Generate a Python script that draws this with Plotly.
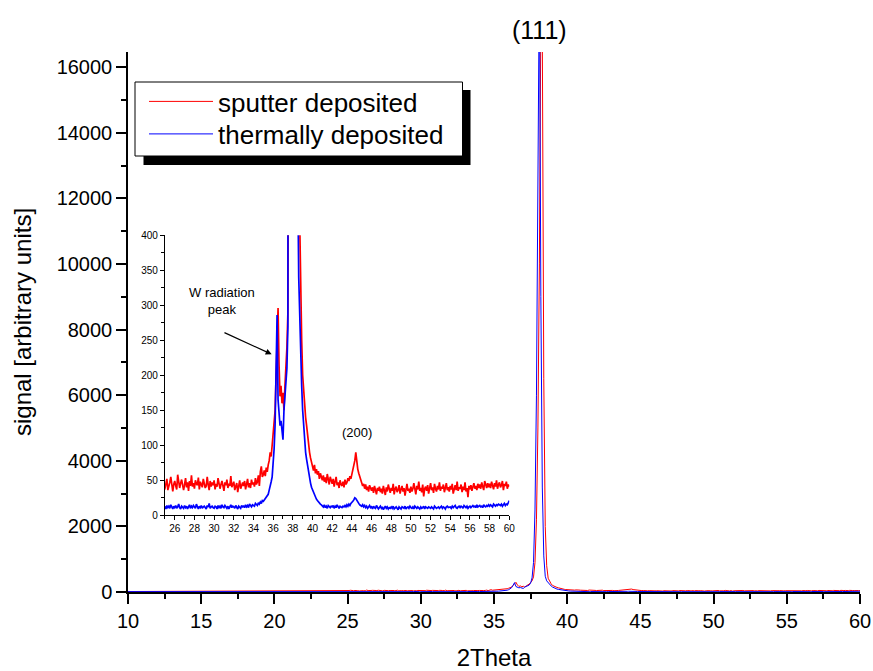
import plotly.graph_objects as go

# ---------------- data ----------------
# scan positions: coarse part 10..24 deg, then 25.0..60.0 deg at 0.1 deg steps
low_two_theta = [10, 11, 12, 13, 14, 15, 16, 17, 18, 19, 20, 21, 22, 23, 24]
scan_start, scan_step, scan_points = 25.0, 0.1, 351
two_theta = low_two_theta + [round(scan_start + scan_step * i, 1) for i in range(scan_points)]

sputter_low = [14, 15, 13, 16, 15, 17, 16, 18, 36, 41, 38, 43, 40, 44, 42]
sputter_scan = [
    38, 45, 52, 36, 41, 47, 55, 40, 34, 44,          # 25
    49, 42, 37, 58, 45, 39, 46, 51, 43, 36,          # 26
    44, 53, 40, 47, 35, 49, 42, 57, 41, 46,          # 27
    38, 50, 45, 43, 54, 37, 48, 44, 40, 52,          # 28
    46, 39, 42, 55, 44, 36, 49, 41, 47, 43,          # 29
    50, 37, 45, 41, 53, 46, 38, 44, 49, 42,          # 30
    35, 47, 43, 51, 39, 45, 42, 56, 40, 44,          # 31
    48, 36, 41, 46, 33, 44, 50, 38, 43, 47,          # 32
    42, 49, 37, 45, 52, 40, 46, 39, 51, 44,          # 33
    47, 41, 53, 44, 48, 57, 42, 62, 70, 55,          # 34
    58, 64, 56, 68, 62, 72, 78, 90, 84, 100,         # 35
    115, 125, 150, 200, 255, 296, 215, 170, 185, 160,  # 36
    175, 150, 185, 210, 240, 290, 340, 460, 900, 2200,  # 37
    5000, 10000, 17500, 17000, 6500, 2000, 800, 420, 310, 250,  # 38
    200, 175, 150, 140, 128, 112, 100, 90, 82, 75,   # 39
    70, 64, 72, 60, 66, 58, 63, 52, 60, 55,          # 40
    50, 57, 48, 54, 46, 59, 51, 44, 55, 49,          # 41
    45, 52, 41, 48, 55, 43, 47, 39, 50, 44,          # 42
    42, 48, 40, 51, 44, 47, 53, 49, 56, 52,          # 43
    58, 62, 68, 78, 90, 74, 66, 60, 55, 52,          # 44
    48, 42, 45, 38, 44, 36, 41, 34, 43, 38,          # 45
    35, 40, 32, 42, 37, 30, 39, 35, 41, 33,          # 46
    38, 31, 42, 36, 29, 40, 34, 44, 37, 32,          # 47
    39, 35, 45, 30, 38, 41, 33, 36, 43, 31,          # 48
    37, 42, 34, 39, 28, 40, 45, 35, 38, 32,          # 49
    41, 34, 38, 46, 36, 30, 42, 37, 48, 35,          # 50
    39, 33, 44, 27, 38, 41, 35, 43, 31, 37,          # 51
    46, 36, 40, 32, 45, 38, 34, 42, 37, 47,          # 52
    35, 41, 38, 44, 33, 39, 46, 36, 40, 34,          # 53
    42, 37, 45, 31, 39, 43, 36, 48, 35, 40,          # 54
    38, 44, 33, 41, 36, 47, 34, 39, 26, 42,          # 55
    37, 43, 35, 40, 46, 38, 42, 36, 45, 39,          # 56
    44, 38, 47, 41, 36, 49, 43, 39, 46, 40,          # 57
    45, 39, 48, 42, 37, 46, 41, 50, 38, 44,          # 58
    47, 40, 43, 49, 36, 45, 42, 48, 38, 44,          # 59
    41,                                              # 60
]

thermal_low = [12, 11, 13, 12, 10, 12, 13, 11, 12, 10, 13, 11, 12, 14, 11]
thermal_scan = [
    12, 9, 14, 11, 13, 10, 15, 12, 9, 13,            # 25
    11, 14, 10, 12, 16, 11, 9, 13, 12, 10,           # 26
    14, 11, 13, 9, 12, 15, 10, 13, 11, 14,           # 27
    12, 10, 16, 12, 9, 13, 11, 14, 10, 12,           # 28
    13, 11, 9, 14, 12, 17, 10, 12, 13, 11,           # 29
    10, 13, 12, 9, 14, 11, 13, 10, 15, 12,           # 30
    11, 14, 12, 10, 13, 9, 12, 15, 11, 13,           # 31
    12, 10, 14, 11, 9, 13, 12, 10, 14, 12,           # 32
    13, 11, 15, 12, 14, 11, 16, 13, 12, 15,          # 33
    14, 13, 17, 15, 14, 18, 16, 19, 17, 21,          # 34
    20, 22, 24, 25, 27, 30, 36, 41, 48, 55,          # 35
    70, 95, 130, 200, 286, 165, 140, 128, 135, 115,  # 36
    108, 150, 172, 190, 210, 270, 430, 900, 2500, 6000,  # 37
    12500, 19000, 9000, 3200, 1100, 480, 340, 280, 225, 185,  # 38
    150, 125, 105, 90, 80, 70, 60, 52, 46, 40,       # 39
    36, 32, 28, 25, 23, 21, 19, 18, 16, 15,          # 40
    14, 12, 15, 11, 13, 10, 14, 12, 11, 13,          # 41
    12, 14, 10, 13, 11, 15, 12, 10, 13, 12,          # 42
    11, 13, 12, 14, 12, 15, 13, 16, 14, 17,          # 43
    18, 20, 22, 25, 24, 21, 19, 17, 15, 14,          # 44
    13, 15, 12, 14, 11, 13, 10, 12, 14, 11,          # 45
    12, 9, 13, 11, 10, 14, 12, 9, 11, 13,            # 46
    10, 12, 8, 11, 13, 10, 12, 9, 11, 10,            # 47
    12, 10, 13, 9, 11, 12, 10, 8, 12, 11,            # 48
    9, 12, 11, 10, 13, 9, 11, 12, 10, 13,            # 49
    11, 10, 12, 9, 13, 11, 10, 12, 11, 9,            # 50
    12, 10, 11, 13, 9, 12, 11, 10, 12, 11,           # 51
    10, 12, 11, 9, 13, 12, 10, 11, 12, 10,           # 52
    11, 13, 10, 12, 11, 9, 12, 13, 11, 12,           # 53
    12, 10, 13, 11, 12, 14, 11, 10, 12, 13,          # 54
    11, 13, 12, 10, 14, 12, 11, 13, 10, 12,          # 55
    13, 11, 12, 14, 12, 13, 11, 15, 12, 13,          # 56
    14, 12, 13, 11, 15, 13, 12, 14, 13, 15,          # 57
    13, 15, 14, 12, 16, 14, 13, 15, 14, 16,          # 58
    15, 14, 16, 13, 15, 17, 14, 16, 15, 18,          # 59
    21,                                              # 60
]

sputter_signal = sputter_low + sputter_scan
thermal_signal = thermal_low + thermal_scan

series_names = ["sputter deposited", "thermally deposited"]
series_colors = ["#FF0000", "#0000FF"]
series_legends = ["legend", "legend2"]

main_x_ticks = [10, 15, 20, 25, 30, 35, 40, 45, 50, 55, 60]
main_y_ticks = [0, 2000, 4000, 6000, 8000, 10000, 12000, 14000, 16000]
inset_x_ticks = list(range(26, 61, 2))
inset_y_ticks = [0, 50, 100, 150, 200, 250, 300, 350, 400]

# ---------------- figure ----------------
FONT = "Liberation Sans, Arial, sans-serif"
W, H = 873, 671
ML, MR, MT, MB = 128, 13, 52, 79
PW, PH = W - ML - MR, H - MT - MB


def px_x(px):
    return (px - ML) / PW


def px_y(py):
    return (H - MB - py) / PH


fig = go.Figure()
for name, ys, col, lg in zip(series_names, [sputter_signal, thermal_signal], series_colors, series_legends):
    fig.add_trace(go.Scatter(x=two_theta, y=ys, mode="lines", name=name, legend=lg,
                             line=dict(color=col, width=1), xaxis="x", yaxis="y"))
for name, ys, col in zip(series_names, [sputter_signal, thermal_signal], series_colors):
    fig.add_trace(go.Scatter(x=two_theta, y=ys, mode="lines", name=name, showlegend=False,
                             line=dict(color=col, width=1.7), xaxis="x2", yaxis="y2"))

axis_common = dict(showline=True, linecolor="black", showgrid=False, zeroline=False,
                   ticks="outside", tickcolor="black", mirror=False, layer="below traces",
                   automargin=False, tickformat="d")

legend_common = dict(xanchor="left", yanchor="top", bgcolor="rgba(0,0,0,0)", borderwidth=0,
                     font=dict(size=26, family=FONT), itemwidth=64, tracegroupgap=0)

fig.update_layout(
    width=W, height=H, autosize=False,
    margin=dict(l=ML, r=MR, t=MT, b=MB),
    paper_bgcolor="white", plot_bgcolor="white",
    font=dict(family=FONT, color="black"),
    showlegend=True,
    legend=dict(legend_common, x=px_x(144), y=px_y(78)),
    legend2=dict(legend_common, x=px_x(144), y=px_y(110.5)),
    xaxis=dict(axis_common, domain=[0, 1], range=[10, 60], tickvals=main_x_ticks,
               linewidth=1.5, tickwidth=1.5, ticklen=10, tickfont=dict(size=20),
               minor=dict(dtick=2.5, tick0=10, ticklen=5, tickwidth=1.5, ticks="outside", tickcolor="black"),
               title=dict(text="2Theta", font=dict(size=24), standoff=21), anchor="y"),
    yaxis=dict(axis_common, domain=[0, 1], range=[0, 16460], tickvals=main_y_ticks,
               linewidth=1.5, tickwidth=1.5, ticklen=10, tickfont=dict(size=20),
               minor=dict(dtick=1000, tick0=0, ticklen=5, tickwidth=1.5, ticks="outside", tickcolor="black"),
               title=dict(text="signal [arbitrary units]", font=dict(size=24), standoff=18), anchor="x"),
    xaxis2=dict(axis_common, domain=[px_x(164.9), px_x(509.3)], range=[25, 60], tickvals=inset_x_ticks,
                linewidth=1, tickwidth=1, ticklen=4, tickfont=dict(size=10),
                minor=dict(dtick=1, tick0=25, ticklen=2.5, tickwidth=1, ticks="outside", tickcolor="black"),
                anchor="y2"),
    yaxis2=dict(axis_common, domain=[px_y(515.3), px_y(235.3)], range=[0, 400], tickvals=inset_y_ticks,
                linewidth=1, tickwidth=1, ticklen=4, tickfont=dict(size=10),
                minor=dict(dtick=25, tick0=0, ticklen=2.5, tickwidth=1, ticks="outside", tickcolor="black"),
                anchor="x2"),
)

# legend frame with drop shadow
fig.add_shape(type="rect", xref="paper", yref="paper", layer="below",
              x0=px_x(143.5), x1=px_x(470.5), y0=px_y(165), y1=px_y(90),
              fillcolor="black", line=dict(width=0))
fig.add_shape(type="rect", xref="paper", yref="paper", layer="below",
              x0=px_x(135), x1=px_x(462.5), y0=px_y(156), y1=px_y(82),
              fillcolor="white", line=dict(color="black", width=1))

# annotations
fig.add_annotation(x=38.14, y=px_y(30), xref="x", yref="paper", yanchor="middle", text="(111)",
                   showarrow=False, font=dict(size=25, family=FONT))
fig.add_annotation(x=38.22, y=(515.3 - 211) / 0.7, xref="x2", yref="y2", text="(111)", showarrow=False,
                   font=dict(size=13, family=FONT))
fig.add_annotation(x=30.77, y=(515.3 - 300.5) / 0.7, xref="x2", yref="y2", text="W radiation<br>peak",
                   showarrow=False, font=dict(size=13, family=FONT))
fig.add_annotation(x=35.85, y=230, xref="x2", yref="y2", ax=30.9, ay=262, axref="x2", ayref="y2",
                   text="", showarrow=True, arrowhead=2, arrowsize=1, arrowwidth=1.2, arrowcolor="black")
fig.add_annotation(x=44.49, y=(515.3 - 432.3) / 0.7, xref="x2", yref="y2", text="(200)", showarrow=False,
                   font=dict(size=13, family=FONT))

# the page's default 8px body margin would shift the whole figure
fig.write_html("out.html", config={"displayModeBar": False},
               post_script="document.body.style.margin = '0';")
